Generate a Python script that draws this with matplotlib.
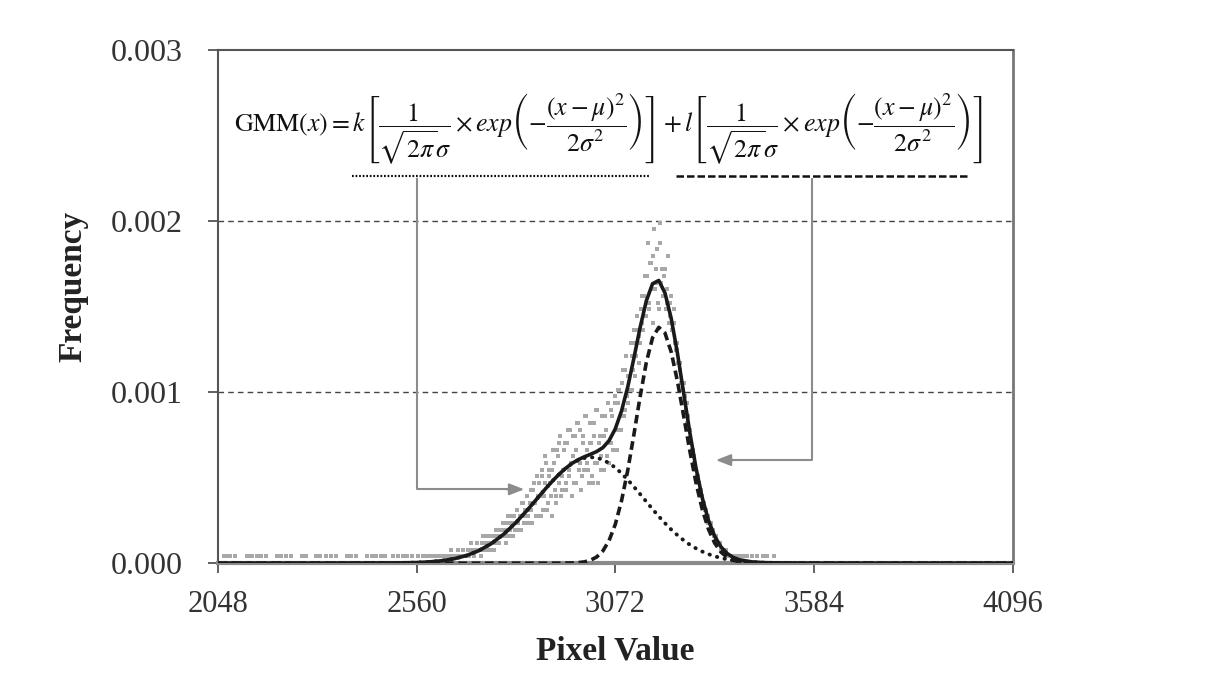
import matplotlib.pyplot as plt
import numpy as np

plt.rcParams['font.family'] = ['Liberation Serif', 'DejaVu Serif']
plt.rcParams['mathtext.fontset'] = 'stix'

# ---------------------------------------------------------------------------
# data
# ---------------------------------------------------------------------------
COUNT_SCALE = 1 / 25600.0   # one pixel count -> frequency

# histogram counts, main region (bins every 4 pixel values from 2560)
hist_start, hist_step = 2560, 4
hist_counts = [
    0, 1, 0, 0, 1, 0, 0, 1, 0, 1, 0, 0, 1, 1, 0, 1,
    1, 0, 1, 1, 0, 1, 2, 1, 1, 0, 1, 2, 1, 1, 2, 1,
    1, 2, 1, 3, 2, 1, 2, 3, 2, 2, 3, 4, 2, 3, 2, 4,
    3, 4, 2, 5, 4, 3, 5, 4, 6, 4, 5, 7, 5, 6, 4, 7,
    6, 8, 5, 7, 9, 6, 8, 10, 7, 9, 8, 11, 9, 7, 10, 12,
    7, 13, 10, 16, 8, 14, 12, 7, 17, 11, 9, 16, 18, 10, 13, 17,
    11, 18, 14, 20, 10, 16, 19, 12, 21, 15, 11, 19, 14, 22, 17, 12,
    18, 13, 21, 15, 23, 12, 19, 16, 22, 14, 20, 24, 15, 18, 22, 17,
    24, 17, 26, 20, 22, 29, 23, 31, 24, 28, 33, 26, 35, 28, 37, 30,
    33, 40, 35, 43, 37, 48, 38, 45, 36, 50, 42, 47, 38, 51, 44, 40,
    44, 39, 46, 37, 40, 35, 38, 32, 33, 30, 30, 27, 27, 25, 24, 22,
    20, 18, 17, 16, 14, 13, 12, 11, 10, 9, 8, 7, 6, 6, 5, 5,
    4, 4, 3, 3, 2, 2, 2, 2, 1, 1, 1, 1, 1, 1, 1, 1,
    1, 0, 1, 1, 0, 1, 0, 0, 1, 0, 0, 1, 0, 0, 0, 1,
    0, 0, 1, 0, 0, 0, 1, 0, 0, 0, 0, 0, 0, 0, 0, 0,
]
# in-between bins (every 4 pixel values from 2722) across the main body
mid_start = 2722
mid_counts = [
    2, 1, 3, 2, 2, 4, 3, 2, 3, 4, 3, 5, 3, 4, 5, 4,
    5, 3, 6, 4, 5, 7, 6, 5, 8, 6, 7, 5, 9, 7, 8, 6,
    8, 11, 6, 12, 9, 13, 7, 10, 14, 8, 12, 15, 9, 13, 10, 14,
    15, 10, 17, 12, 19, 11, 14, 18, 12, 20, 13, 15, 19, 12, 17, 21,
    14, 20, 13, 18, 22, 15, 14, 21, 18, 12, 19, 23, 15, 18, 14, 22,
    19, 22, 16, 24, 18, 23, 17, 25, 20, 24, 26, 20, 27, 22, 29, 25,
    28, 26, 31, 29, 33, 31, 35, 34, 38, 36, 40, 37, 43, 39, 45, 41,
    46, 41, 44, 39, 48, 42, 40, 43, 38, 41, 36, 39, 35, 36, 33, 32,
    30, 29, 27, 26, 24, 23, 21, 20, 18, 17, 15, 14, 13, 12, 11, 10,
    9, 8, 8, 7, 6, 6, 5, 4, 4, 3, 3, 3, 2, 2, 2, 1,
]
# low tail: pixel values holding a single count
tail_single = [2064, 2068, 2080, 2092, 2124, 2128, 2136, 2148, 2160, 2172,
               2200, 2204, 2212, 2224, 2236, 2264, 2276, 2300, 2304, 2312,
               2328, 2340, 2352, 2380, 2392, 2404, 2432, 2444, 2456, 2468,
               2480, 2500, 2512, 2524, 2536, 2548]

# fitted curves (frequency)
curve_x = [2048, 2304, 2496, 2560, 2592, 2624, 2656, 2688, 2720, 2752, 2784,
           2816, 2848, 2880, 2896, 2912, 2928, 2944, 2960, 2976, 2992, 3008,
           3024, 3040, 3056, 3072, 3088, 3104, 3120, 3136, 3152, 3168, 3184,
           3200, 3216, 3232, 3248, 3264, 3280, 3296, 3312, 3328, 3344, 3360,
           3376, 3392, 3424, 3456, 3520, 3584, 3840, 4096]
comp1 = [0, 0, 0.7e-6, 3.5e-6, 7.2e-6, 1.39e-5, 2.54e-5, 4.40e-5, 7.26e-5,
         1.135e-4, 1.685e-4, 2.374e-4, 3.174e-4, 4.03e-4, 4.45e-4, 4.85e-4,
         5.22e-4, 5.55e-4, 5.82e-4, 6.02e-4, 6.15e-4, 6.20e-4, 6.17e-4,
         6.05e-4, 5.85e-4, 5.59e-4, 5.26e-4, 4.88e-4, 4.47e-4, 4.04e-4,
         3.60e-4, 3.16e-4, 2.74e-4, 2.34e-4, 1.97e-4, 1.64e-4, 1.34e-4,
         1.08e-4, 8.64e-5, 6.79e-5, 5.27e-5, 4.03e-5, 3.04e-5, 2.26e-5,
         1.66e-5, 1.20e-5, 6.0e-6, 2.9e-6, 0.5e-6, 0, 0, 0]
comp2 = [0, 0, 0, 0, 0, 0, 0, 0, 0, 0, 0, 0, 0, 0, 0, 0, 1.3e-7, 4.0e-7,
         1.15e-6, 3.0e-6, 7.4e-6, 1.69e-5, 3.61e-5, 7.15e-5, 1.32e-4,
         2.27e-4, 3.64e-4, 5.42e-4, 7.53e-4, 9.75e-4, 1.175e-3, 1.319e-3,
         1.38e-3, 1.347e-3, 1.236e-3, 1.066e-3, 8.63e-4, 6.57e-4, 4.69e-4,
         3.15e-4, 1.987e-4, 1.177e-4, 6.56e-5, 3.43e-5, 1.68e-5, 7.8e-6,
         1.4e-6, 0, 0, 0, 0, 0]
gmm_total = [0, 0, 0.7e-6, 3.5e-6, 7.2e-6, 1.39e-5, 2.54e-5, 4.40e-5, 7.26e-5,
             1.135e-4, 1.685e-4, 2.374e-4, 3.174e-4, 4.03e-4, 4.45e-4,
             4.85e-4, 5.22e-4, 5.55e-4, 5.83e-4, 6.05e-4, 6.22e-4, 6.37e-4,
             6.53e-4, 6.76e-4, 7.17e-4, 7.86e-4, 8.90e-4, 1.030e-3, 1.200e-3,
             1.379e-3, 1.535e-3, 1.635e-3, 1.654e-3, 1.581e-3, 1.433e-3,
             1.230e-3, 9.97e-4, 7.65e-4, 5.56e-4, 3.83e-4, 2.51e-4, 1.58e-4,
             9.6e-5, 5.7e-5, 3.34e-5, 1.98e-5, 7.4e-6, 2.9e-6, 0.5e-6, 0, 0, 0]

x_ticks = [2048, 2560, 3072, 3584, 4096]
y_ticks = [0.000, 0.001, 0.002, 0.003]

# ---------------------------------------------------------------------------
fig = plt.figure(figsize=(12.10, 6.91), dpi=100)
ax = fig.add_axes([0.180, 0.185, 0.657, 0.742])

point_style = dict(color='#a8a8a8', markersize=3.0, markeredgewidth=0,
                   zorder=2, linestyle='none', marker='s')
hist_x = hist_start + hist_step * np.arange(len(hist_counts))
ax.plot(hist_x, np.array(hist_counts) * COUNT_SCALE, **point_style)
mid_x = mid_start + hist_step * np.arange(len(mid_counts))
ax.plot(mid_x, np.array(mid_counts) * COUNT_SCALE, **point_style)
ax.plot(tail_single, np.ones(len(tail_single)) * COUNT_SCALE, **point_style)

ax.plot(curve_x, comp1, color='#1a1a1a', linewidth=2.8,
        linestyle=(0, (0.1, 1.9)), dash_capstyle='round', zorder=3)
ax.plot(curve_x, comp2, color='#1a1a1a', linewidth=2.6,
        linestyle=(0, (2.4, 1.3)), zorder=3)
ax.plot(curve_x, gmm_total, color='#1a1a1a', linewidth=2.6, zorder=4)

ax.set_xlim(2048, 4096)
ax.set_ylim(0, 0.003)
ax.set_xticks(x_ticks)
ax.set_yticks(y_ticks)
ax.set_yticklabels(['%.3f' % v for v in y_ticks])
ax.tick_params(axis='both', direction='out', length=7, width=1.3,
               colors='#555555', labelcolor='#333333', labelsize=22)
ax.tick_params(axis='y', labelsize=23, pad=18)
ax.tick_params(axis='x', pad=12)

for yv in y_ticks[1:3]:
    ax.axhline(yv, color='#444444', linewidth=1.0, linestyle=(0, (4, 3)),
               zorder=1)

ax.spines['left'].set_color('#555555')
ax.spines['left'].set_linewidth(1.5)
ax.spines['top'].set_color('#555555')
ax.spines['top'].set_linewidth(1.5)
ax.spines['right'].set_color('#777777')
ax.spines['right'].set_linewidth(2.0)
ax.spines['bottom'].set_color('#8a8a8a')
ax.spines['bottom'].set_linewidth(3.0)

ax.set_xlabel('Pixel Value', fontsize=24, fontweight='bold', color='#222222',
              labelpad=12)
fig.text(0.060, 0.585, 'Frequency', rotation=90, fontsize=24,
         fontweight='bold', color='#222222', ha='center', va='center')

# formula and its two underlines
formula = (r'$\mathrm{GMM}(x)=k\left[\dfrac{1}{\sqrt{2\pi}\sigma}\times exp'
           r'\left(-\dfrac{(x-\mu)^2}{2\sigma^2}\right)\right]+l\left['
           r'\dfrac{1}{\sqrt{2\pi}\sigma}\times exp\left(-\dfrac{(x-\mu)^2}'
           r'{2\sigma^2}\right)\right]$')
ax.text(0.020, 0.848, formula, transform=ax.transAxes, fontsize=18.6,
        ha='left', va='center', color='#111111')
ax.plot([0.169, 0.543], [0.756, 0.756], transform=ax.transAxes,
        color='#111111', linewidth=1.6, linestyle=(0, (0.8, 0.8)),
        clip_on=False)
ax.plot([0.577, 0.946], [0.756, 0.756], transform=ax.transAxes,
        color='#111111', linewidth=1.8, linestyle=(0, (3, 1.2)),
        clip_on=False)

# connector arrows
arrow_color = '#8c8c8c'
ax.plot([0.250, 0.250, 0.370], [0.750, 0.144, 0.144], transform=ax.transAxes,
        color=arrow_color, linewidth=1.5)
ax.annotate('', xy=(0.389, 0.144), xytext=(0.360, 0.144),
            xycoords='axes fraction', textcoords='axes fraction',
            arrowprops=dict(arrowstyle='-|>,head_length=0.9,head_width=0.35',
                            color=arrow_color, linewidth=1.5))
ax.plot([0.747, 0.747, 0.640], [0.750, 0.201, 0.201], transform=ax.transAxes,
        color=arrow_color, linewidth=1.5)
ax.annotate('', xy=(0.623, 0.201), xytext=(0.652, 0.201),
            xycoords='axes fraction', textcoords='axes fraction',
            arrowprops=dict(arrowstyle='-|>,head_length=0.9,head_width=0.35',
                            color=arrow_color, linewidth=1.5))

fig.savefig('out.png', dpi=100, facecolor='white')
